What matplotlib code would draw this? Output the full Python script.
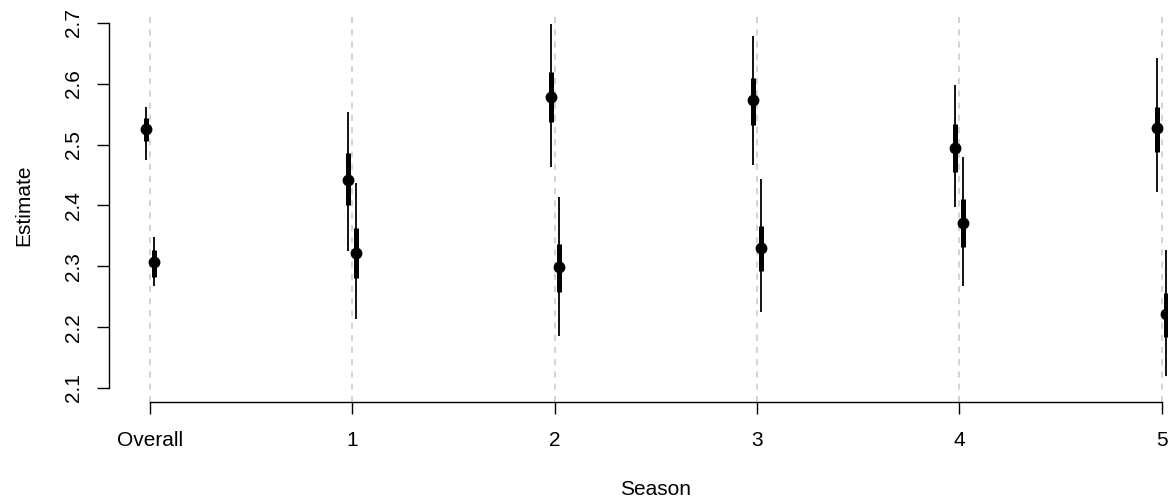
import numpy as np
import matplotlib.pyplot as plt

plt.rcParams['font.family'] = ['Liberation Sans', 'DejaVu Sans']

# categories on the x axis
seasons = ['Overall', '1', '2', '3', '4', '5']

# upper series (drawn slightly left of each tick)
upper_est = [2.526, 2.442, 2.578, 2.573, 2.494, 2.527]
upper_lo95 = [2.475, 2.325, 2.463, 2.467, 2.398, 2.422]
upper_hi95 = [2.562, 2.554, 2.698, 2.679, 2.598, 2.642]
upper_lo50 = [2.506, 2.401, 2.537, 2.532, 2.455, 2.488]
upper_hi50 = [2.543, 2.486, 2.619, 2.610, 2.534, 2.562]

# lower series (drawn slightly right of each tick)
lower_est = [2.307, 2.322, 2.299, 2.330, 2.371, 2.222]
lower_lo95 = [2.268, 2.213, 2.185, 2.225, 2.268, 2.120]
lower_hi95 = [2.348, 2.437, 2.414, 2.444, 2.480, 2.327]
lower_lo50 = [2.282, 2.281, 2.258, 2.292, 2.332, 2.184]
lower_hi50 = [2.327, 2.363, 2.337, 2.366, 2.411, 2.256]

W, H = 1168, 498
fig = plt.figure(figsize=(W / 100, H / 100), dpi=100)
# plot region in pixels: x 109..1168, y 13..402 (from top)
ax = fig.add_axes([109 / W, (H - 402) / H, (W - 109) / W, (402 - 13) / H])

x = np.arange(len(seasons))
off = 0.02

for xi in x:
    ax.axvline(xi, color='#c8c8c8', lw=1.1, ls=(0, (4, 4)), zorder=0)

for xs, est, lo95, hi95, lo50, hi50 in [
    (x - off, upper_est, upper_lo95, upper_hi95, upper_lo50, upper_hi50),
    (x + off, lower_est, lower_lo95, lower_hi95, lower_lo50, lower_hi50),
]:
    ax.vlines(xs, lo95, hi95, color='black', lw=1.3)
    ax.vlines(xs, lo50, hi50, color='black', lw=3.6)
    ax.plot(xs, est, 'o', color='black', ms=7.5, mec='black')

ax.set_xlim(-0.2027, 5.032)
ax.set_ylim(2.077, 2.7164)

for s in ['top', 'right']:
    ax.spines[s].set_visible(False)
ax.spines['left'].set_bounds(2.1, 2.7)
ax.spines['bottom'].set_bounds(0, 5)
for s in ['left', 'bottom']:
    ax.spines[s].set_linewidth(1.0)

ax.set_xticks(x)
ax.set_xticklabels(seasons)
ax.set_yticks([2.1, 2.2, 2.3, 2.4, 2.5, 2.6, 2.7])
ax.set_yticklabels(['2.1', '2.2', '2.3', '2.4', '2.5', '2.6', '2.7'],
                   rotation=90, va='center')
ax.tick_params(axis='both', direction='out', length=8.6, width=1.0,
               labelsize=15)
ax.tick_params(axis='x', pad=12)
ax.tick_params(axis='y', pad=10)

fig.text(656 / W, 1 - 489 / H, 'Season', ha='center', va='center', fontsize=15)
fig.text(24 / W, 1 - 205 / H, 'Estimate', ha='center', va='center',
         rotation=90, fontsize=15)

fig.savefig('out.png', dpi=100)
